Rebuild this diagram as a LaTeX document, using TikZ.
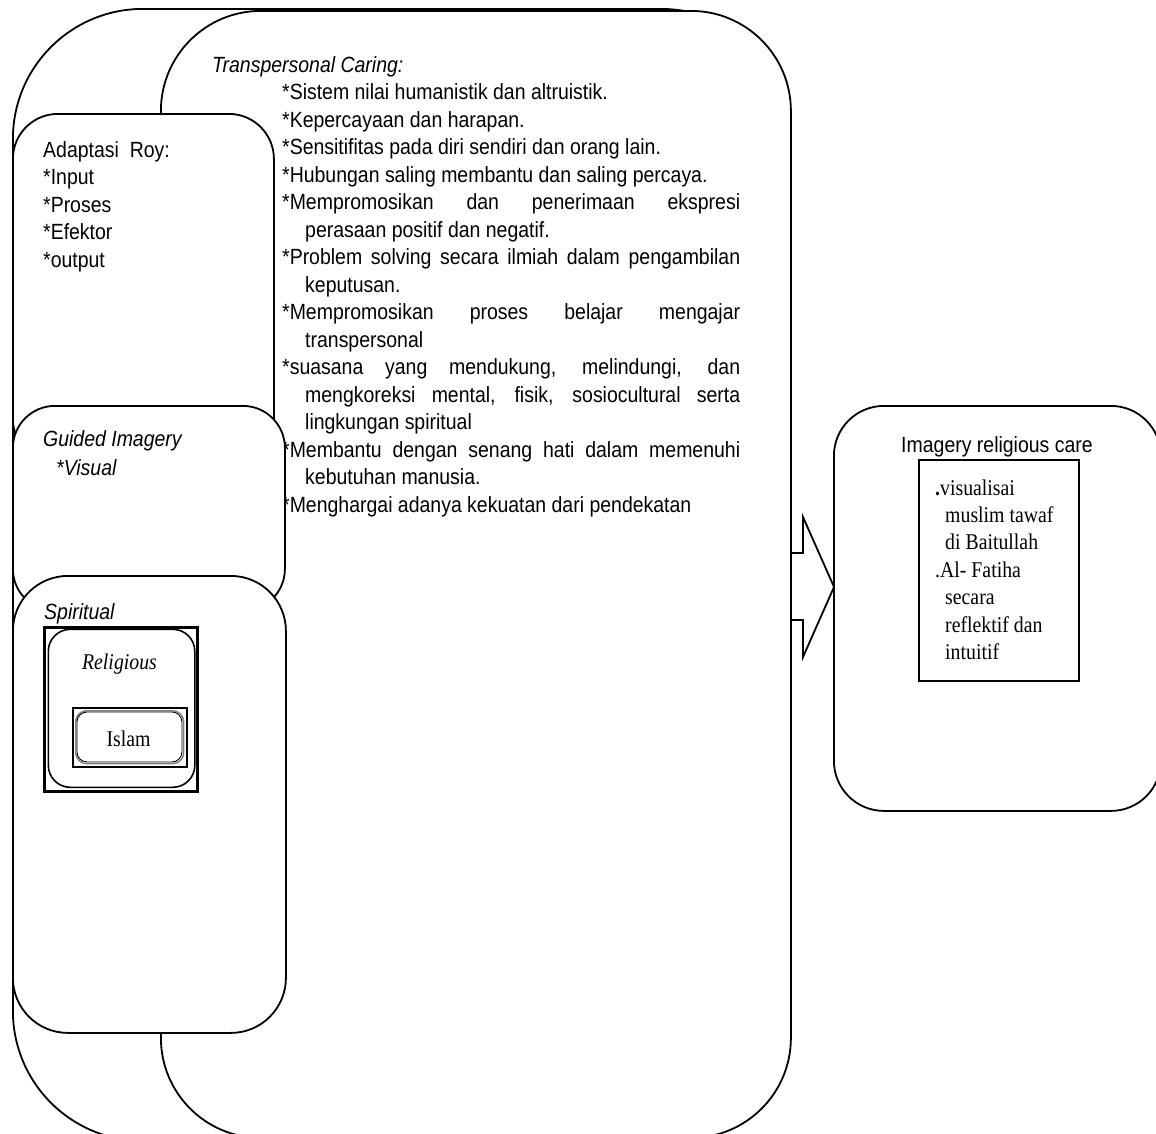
\documentclass[tikz,border=0pt]{standalone}
\usepackage{fontspec}
\setmainfont{Liberation Serif}[FakeStretch=0.88]
\newfontfamily\sansn{Liberation Sans}[FakeStretch=0.885]
\begin{document}
\begin{tikzpicture}[x=1pt,y=-1pt,
  shp/.style={draw, line width=1.8pt, fill=white, inner sep=0pt, anchor=north west},
  t/.style={anchor=base west, inner sep=0pt, font=\sansn\fontsize{22}{27.5}\selectfont},
  ti/.style={anchor=base west, inner sep=0pt, font=\sansn\itshape\fontsize{22}{27.5}\selectfont},
  st/.style={anchor=base west, inner sep=0pt, font=\fontsize{22.5}{27.4}\selectfont}]
\useasboundingbox (0,0) rectangle (1156,1133);
\clip (0,0) rectangle (1156,1133);

% large background shapes
\node[shp, rounded corners=130pt, minimum width=778pt, minimum height=1132pt] (outer) at (12,8) {};
\node[shp, rounded corners=100pt, minimum width=630pt, minimum height=1127pt] (tp) at (160,10) {};

% Transpersonal caring text
\node[ti] (tct) at (212,72) {Transpersonal Caring:};
\node[t] (l0) at (282,99.5) {*Sistem nilai humanistik dan altruistik.};
\node[t] (l1) at (282,127) {*Kepercayaan dan harapan.};
\node[t] (l2) at (282,154.5) {*Sensitifitas pada diri sendiri dan orang lain.};
\node[t] (l3) at (282,182) {*Hubungan saling membantu dan saling percaya.};
\node[t] (l4) at (282,209.5) {\makebox[458pt][s]{*Mempromosikan dan penerimaan ekspresi}};
\node[t] (l5) at (305,237) {perasaan positif dan negatif.};
\node[t] (l6) at (282,264.5) {\makebox[458pt][s]{*Problem solving secara ilmiah dalam pengambilan}};
\node[t] (l7) at (305,292) {keputusan.};
\node[t] (l8) at (282,319.5) {\makebox[458pt][s]{*Mempromosikan proses belajar mengajar}};
\node[t] (l9) at (305,347) {transpersonal};
\node[t] (l10) at (282,374.5) {\makebox[458pt][s]{*suasana yang mendukung, melindungi, dan}};
\node[t] (l11) at (305,402) {\makebox[435pt][s]{mengkoreksi mental, fisik, sosiocultural serta}};
\node[t] (l12) at (305,429.5) {lingkungan spiritual};
\node[t] (l13) at (282,457) {\makebox[458pt][s]{*Membantu dengan senang hati dalam memenuhi}};
\node[t] (l14) at (305,484.5) {kebutuhan manusia.};
\node[t] (l15) at (282,512) {*Menghargai adanya kekuatan dari pendekatan};

% Adaptasi Roy
\node[shp, rounded corners=45pt, minimum width=261pt, minimum height=350pt] (roy) at (12,113) {};
\node[t] (r0) at (43,157) {Adaptasi~ Roy:};
\node[t] (r1) at (43,184.5) {*Input};
\node[t] (r2) at (43,212) {*Proses};
\node[t] (r3) at (43,239.5) {*Efektor};
\node[t] (r4) at (43,267) {*output};

% Guided imagery
\node[shp, rounded corners=42pt, minimum width=272pt, minimum height=205pt] (gi) at (12,405) {};
\node[ti] (g0) at (43,446.5) {Guided Imagery};
\node[ti] (g1) at (56,475) {*Visual};

% Spiritual
\node[shp, rounded corners=55pt, minimum width=273pt, minimum height=457pt] (sp) at (12,575) {};
\node[ti] (s0) at (44,619) {Spiritual};
\node[draw, line width=2.7pt, inner sep=0pt, anchor=north west, minimum width=153pt, minimum height=164pt] (rsq) at (43,626) {};
\node[draw, line width=1.6pt, rounded corners=22pt, inner sep=0pt, anchor=north west, minimum width=146.5pt, minimum height=158pt] (rel) at (47.5,628.5) {};
\node[anchor=base, inner sep=0pt, font=\itshape\fontsize{22.5}{27}\selectfont] (relt) at (119.5,669.5) {Religious};
\node[draw, line width=2pt, inner sep=0pt, anchor=north west, minimum width=114pt, minimum height=59pt] (isq) at (72,707) {};
\node[draw, gray, line width=1.4pt, rounded corners=11pt, inner sep=0pt, anchor=north west, minimum width=108pt, minimum height=53pt] (isl) at (75,710) {};
\node[draw, line width=0.9pt, rounded corners=10pt, inner sep=0pt, anchor=north west, minimum width=105pt, minimum height=50pt] (isl2) at (76.5,711.5) {};
\node[anchor=base, inner sep=0pt, font=\fontsize{22.5}{27}\selectfont] (islt) at (128.5,746) {Islam};

% Block arrow (open on the left, where it meets the big shape's edge)
\coordinate (a0) at (790,553);
\coordinate (tip) at (834,587);
\draw[line width=1.8pt, line join=miter] (a0) -- (803,553) -- (803,517) -- (tip) -- (803,657) -- (803,620) -- (790,620);

% Right box
\node[shp, rounded corners=50pt, minimum width=327pt, minimum height=405pt] (irc) at (833,405) {};
\node[anchor=base, inner sep=0pt, font=\sansn\fontsize{22}{27.5}\selectfont] (irct) at (997,452) {Imagery religious care};
\node[draw, line width=1.8pt, inner sep=0pt, anchor=north west, minimum width=160pt, minimum height=221pt] (ibox) at (918,459) {};
\node[st] (i0) at (935,495) {{\bfseries .}visualisai};
\node[st] (i1) at (945,522.4) {muslim tawaf};
\node[st] (i2) at (945,549.8) {di Baitullah};
\node[st] (i3) at (935,577.2) {.Al- Fatiha};
\node[st] (i4) at (945,604.6) {secara};
\node[st] (i5) at (945,632) {reflektif dan};
\node[st] (i6) at (945,659.4) {intuitif};
\end{tikzpicture}
\end{document}
